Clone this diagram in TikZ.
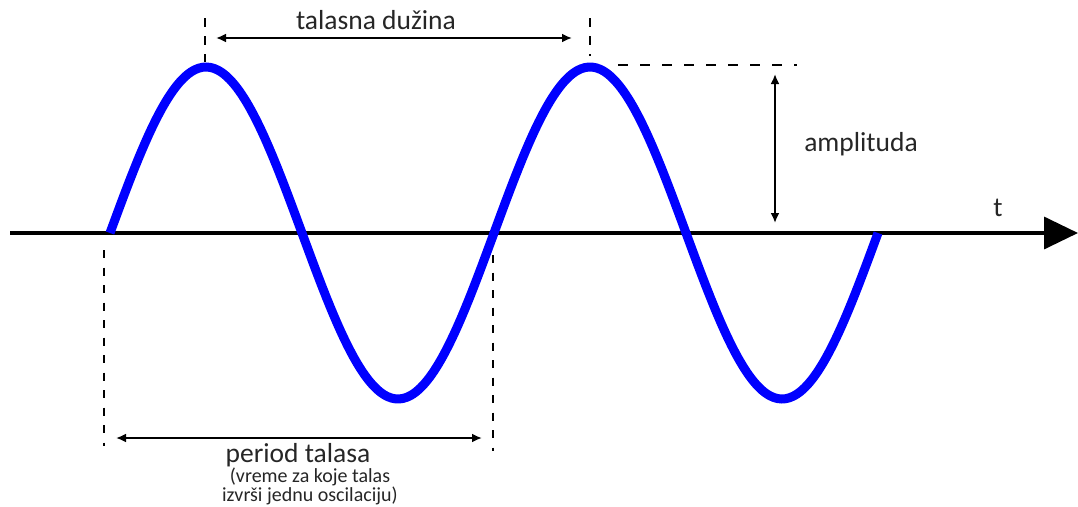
\documentclass[tikz,border=0pt]{standalone}
\usepackage{fontspec}
\setmainfont{Carlito}
\usetikzlibrary{arrows.meta}
\begin{document}
\begin{tikzpicture}[x=1pt,y=-1pt,
  wave/.style={blue,line width=9pt},
  axisline/.style={line width=3.5pt,-{Triangle[length=34pt,width=32pt]}},
  dimline/.style={line width=2.5pt,{Latex[length=10pt,width=9pt]}-{Latex[length=10pt,width=9pt]}},
  guide/.style={line width=2.5pt,dash pattern=on 9pt off 9pt},
  lbl/.style={font=\fontsize{27.5}{30}\selectfont,text=black!85,inner sep=0pt},
  small/.style={font=\fontsize{20}{19}\selectfont,text=black!85,align=center,inner sep=0pt}]
\useasboundingbox (0,0) rectangle (1078,506);
% axis
\coordinate (a0) at (10,233);
\coordinate (a1) at (1078,233);
\draw[axisline] (a0) -- (a1);
\node[lbl] (t) at (998,208) {t};
% wave
\draw[wave] plot[smooth,samples=200,domain=110:878] (\x,{233-166*sin((\x-110)*0.9375)});
% top guides
\coordinate (p1t) at (205,18); \coordinate (p1b) at (205,62);
\coordinate (p2t) at (590,18); \coordinate (p2b) at (590,56);
\draw[guide] (p1t) -- (p1b);
\draw[guide] (p2t) -- (p2b);
\coordinate (wl0) at (216,38); \coordinate (wl1) at (572,38);
\draw[dimline] (wl0) -- (wl1);
\node[lbl] (wl) at (376,20) {talasna dužina};
% amplitude
\coordinate (h0) at (618,65); \coordinate (h1) at (797,65);
\draw[guide,dash pattern=on 10pt off 12pt] (h0) -- (h1);
\coordinate (am0) at (775,74); \coordinate (am1) at (775,223);
\draw[dimline] (am0) -- (am1);
\node[lbl] (am) at (861,144) {amplituda};
% period guides
\coordinate (q1t) at (104,250); \coordinate (q1b) at (104,446);
\coordinate (q2t) at (493,255); \coordinate (q2b) at (493,451);
\draw[guide,dash pattern=on 8pt off 9.5pt] (q1t) -- (q1b);
\draw[guide,dash pattern=on 8pt off 9.5pt] (q2t) -- (q2b);
\coordinate (pr0) at (116,438); \coordinate (pr1) at (482,438);
\draw[dimline] (pr0) -- (pr1);
\node[lbl] (pr) at (298,455) {period talasa};
\node[small] (prs) at (310,486.5) {(vreme za koje talas\\izvrši jednu oscilaciju)};
\end{tikzpicture}
\end{document}
